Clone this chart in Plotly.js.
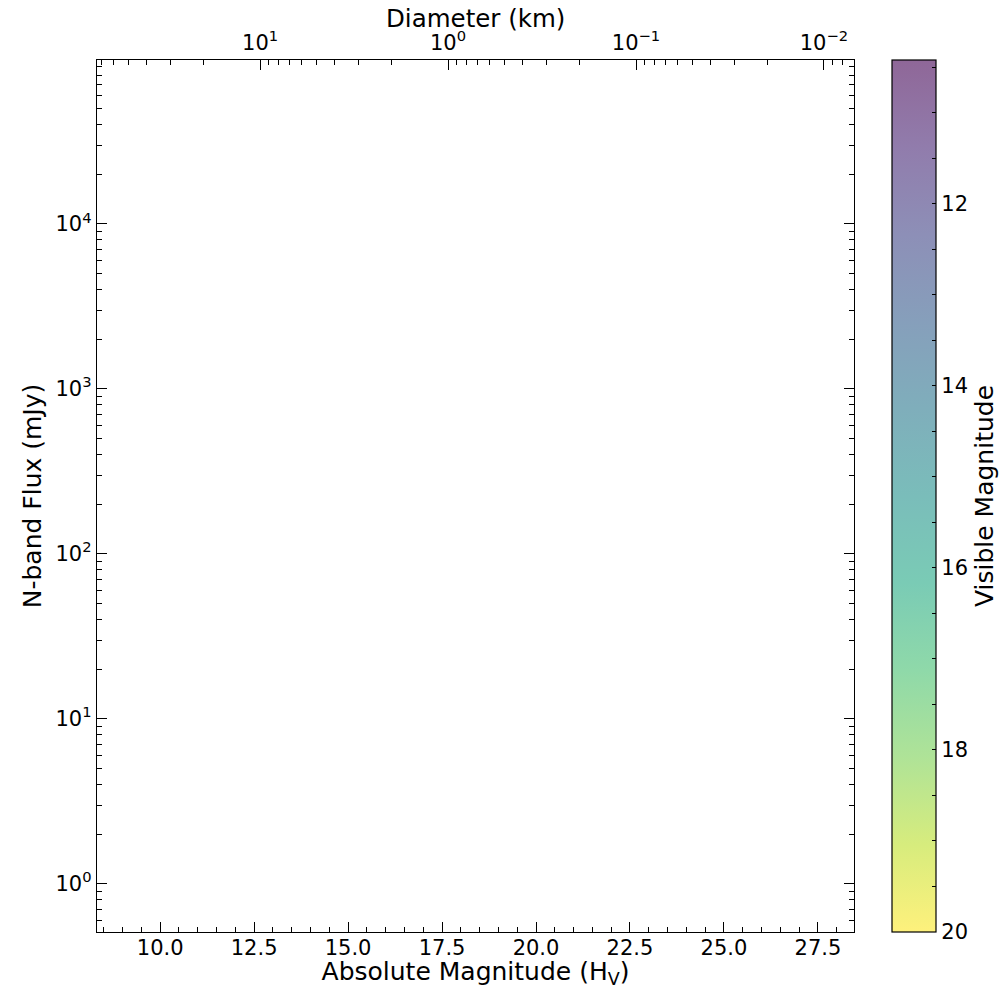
<!DOCTYPE html>
<html><head><meta charset="utf-8">
<script src="https://cdn.plot.ly/plotly-3.0.1.min.js"></script>
<style>body{margin:0;background:#fff}</style>
</head><body><div id="chart" style="width:1000px;height:989px"></div>
<script>
// ---- Data (the reference panel shows no plotted points) ----
const absMag = [];   // Absolute magnitude H_V
const flux = [];     // N-band flux (mJy)
const visMag = [];   // visible magnitude (colour)

// ---- Axis settings ----
const xRange = [8.32, 28.46];
const yRangeLog = [-0.292, 4.994];
const xTickVals = [10.0, 12.5, 15.0, 17.5, 20.0, 22.5, 25.0, 27.5];
const xTickText = ['10.0', '12.5', '15.0', '17.5', '20.0', '22.5', '25.0', '27.5'];
const yTickVals = [1, 10, 100, 1000, 10000];
const yTickText = ['10<sup>0</sup>', '10<sup>1</sup>', '10<sup>2</sup>', '10<sup>3</sup>', '10<sup>4</sup>'];
const diamTickVals = [10, 1, 0.1, 0.01];
const diamTickText = ['10<sup>1</sup>', '10<sup>0</sup>', '10<sup>\u22121</sup>', '10<sup>\u22122</sup>'];
const diamCalibH = 12.66, diamCalibD = 10;   // D = 10 km at H = 12.66
const cbMin = 10.42, cbMax = 20;
const cbTickVals = [12, 14, 16, 18, 20];
const cbTickText = ['12', '14', '16', '18', '20'];

// ---- derived axis helpers ----
function logMinor(lo, hi) {
  const out = [];
  for (let e = Math.floor(lo) - 1; e <= Math.ceil(hi) + 1; e++) {
    for (let m = 2; m <= 9; m++) out.push(m * Math.pow(10, e));
  }
  return out;
}
const dLog = H => Math.log10(diamCalibD) - (H - diamCalibH) / 5;
const diamRange = [dLog(xRange[0]), dLog(xRange[1])];

// colour bar: reversed viridis blended with white (alpha 0.6)
const viridis = ['#440154','#482475','#414487','#355f8d','#2a788e','#21918c','#22a884','#44bf70','#7ad151','#bddf26','#fde725'];
const alpha = 0.6;
function blend(hex) {
  const r = parseInt(hex.slice(1,3),16), g = parseInt(hex.slice(3,5),16), b = parseInt(hex.slice(5,7),16);
  const f = c => Math.round(alpha * c + (1 - alpha) * 255);
  return `rgb(${f(r)},${f(g)},${f(b)})`;
}
const cscale = viridis.slice().reverse().map((c, i, a) => [i / (a.length - 1), blend(c)]);
const cbAllTicks = [], cbAllText = [];
for (let v = 20; v >= 10.5 - 1e-9; v -= 0.5) {
  cbAllTicks.push(-v);
  const k = cbTickVals.indexOf(v);
  cbAllText.push(k >= 0 ? cbTickText[k] : '');
}

const FONT = 'DejaVu Sans, sans-serif';
const tickFont = {family: FONT, size: 21, color: '#000'};
const titleFont = {family: FONT, size: 25, color: '#000'};

const markerScale = {
  cmin: -cbMax, cmax: -cbMin, colorscale: cscale, showscale: true, size: 8,
  colorbar: {
    x: (892 - 97) / 757, xanchor: 'left', xref: 'paper', xpad: 0,
    y: 0.5, yanchor: 'middle', len: 1, lenmode: 'fraction', ypad: 0,
    thickness: 44, thicknessmode: 'pixels',
    outlinewidth: 1.2, outlinecolor: '#000',
    tickmode: 'array', tickvals: cbAllTicks, ticktext: cbAllText,
    ticks: 'inside', ticklen: 4, tickwidth: 1, tickcolor: '#000',
    tickfont: tickFont,
    title: {text: 'Visible Magnitude', side: 'right', font: titleFont}
  }
};

const traces = [
  {
    type: 'scatter', mode: 'markers', x: absMag, y: flux,
    xaxis: 'x', yaxis: 'y', showlegend: false, hoverinfo: 'skip',
    marker: Object.assign({}, markerScale, {color: visMag.map(v => -v), showscale: false})
  },
  // carrier for the colour bar (draws no visible mark)
  {
    type: 'scatter', mode: 'markers', x: [null], y: [null],
    xaxis: 'x', yaxis: 'y', showlegend: false, hoverinfo: 'skip',
    marker: Object.assign({}, markerScale, {color: [null]})
  },
  {type: 'scatter', mode: 'markers', x: [null], y: [null], xaxis: 'x2', yaxis: 'y', showlegend: false, hoverinfo: 'skip'}
];

const axBase = {
  showgrid: false, zeroline: false, showline: true, linecolor: '#000', linewidth: 1.3,
  ticks: 'inside', tickcolor: '#000', tickwidth: 1, ticklen: 10, tickfont: tickFont
};

const layout = {
  width: 1000, height: 989,
  margin: {l: 97, r: 146, t: 60, b: 57, pad: 0, autoexpand: false},
  paper_bgcolor: '#fff', plot_bgcolor: '#fff',
  font: {family: FONT, color: '#000'},
  showlegend: false,
  xaxis: Object.assign({}, axBase, {
    range: xRange, mirror: true, tickmode: 'array', tickvals: xTickVals, ticktext: xTickText,
    ticklabelstandoff: -4,
    minor: {dtick: 0.5, tick0: 0, ticks: 'inside', ticklen: 5, tickcolor: '#000', tickwidth: 1},
    title: {text: 'Absolute Magnitude (H<sub>V</sub>)', font: titleFont, standoff: 12}
  }),
  xaxis2: Object.assign({}, axBase, {
    type: 'log', overlaying: 'x', side: 'top', anchor: 'y', range: diamRange,
    tickmode: 'array', tickvals: diamTickVals, ticktext: diamTickText,
    minor: {tickmode: 'array', tickvals: logMinor(-3, 2), ticks: 'inside', ticklen: 5, tickcolor: '#000', tickwidth: 1}
  }),
  yaxis: Object.assign({}, axBase, {
    type: 'log', range: yRangeLog, mirror: 'ticks',
    tickmode: 'array', tickvals: yTickVals, ticktext: yTickText,
    minor: {tickmode: 'array', tickvals: logMinor(-1, 5), ticks: 'inside', ticklen: 5, tickcolor: '#000', tickwidth: 1},
    title: {text: 'N-band Flux (mJy)', font: titleFont, standoff: 6}
  }),
  annotations: [{
    text: 'Diameter (km)', xref: 'paper', yref: 'paper', x: 0.5, y: 1,
    xanchor: 'center', yanchor: 'middle', yshift: 42, showarrow: false,
    font: {family: FONT, size: 24.5, color: '#000'}
  }]
};

Plotly.newPlot('chart', traces, layout, {staticPlot: true, displayModeBar: false});
</script>
</body></html>
